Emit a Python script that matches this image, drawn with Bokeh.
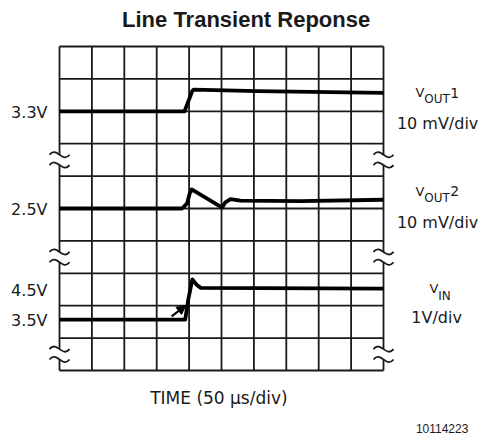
from bokeh.plotting import figure
from bokeh.models import Range1d, Arrow, NormalHead
from bokeh.core.properties import value
from bokeh.embed import file_html
from bokeh.resources import INLINE

# ---------------- data ----------------
US_PER_DIV = 50.0          # time base (µs/div)
MV_PER_DIV = 10.0          # VOUT1 / VOUT2 scale
V_PER_DIV = 1.0            # VIN scale

vout1_t = [0, 193, 205, 207, 305, 500]
vout1_mv = [0, 0, 6.3, 6.7, 6.2, 5.7]

vout2_t = [0, 189, 197, 201, 204, 251, 256, 264, 279, 372, 500]
vout2_mv = [0, 0, 1.6, 4.7, 5.9, 0.3, 1.9, 2.9, 2.4, 2.3, 2.7]

vin_t = [0, 194, 199, 205, 212, 218, 500]
vin_v = [3.5, 3.5, 4.15, 4.74, 4.57, 4.48, 4.46]

level_labels = ["3.3V", "2.5V", "4.5V", "3.5V"]
arrow_from = (173, 3.6)    # (µs, V) on VIN trace scale
arrow_to = (195, 3.94)

# ---------------- layout ----------------
DIV_PX = 32.4
W, H = 486, 437
GRID_LEFT = 59
GRID_BOTTOM = H - 370
VOUT1_POS, VOUT2_POS, VIN_POS = 8.0, 5.0, 1.57
FONT = value("DejaVu Sans")
INK = "#1a1a1a"

p = figure(width=W, height=H, output_backend="svg", toolbar_location=None,
           x_axis_location=None, y_axis_location=None, min_border=0,
           x_range=Range1d(-GRID_LEFT / DIV_PX, (W - GRID_LEFT) / DIV_PX),
           y_range=Range1d(-GRID_BOTTOM / DIV_PX, (H - GRID_BOTTOM) / DIV_PX))
p.grid.visible = False
p.outline_line_color = None
p.background_fill_color = "white"
p.border_fill_color = "white"

divs = list(range(11))
p.segment(x0=divs, y0=[0] * 11, x1=divs, y1=[10] * 11, line_color=INK, line_width=1.8)
p.segment(x0=[0] * 11, y0=divs, x1=[10] * 11, y1=divs, line_color=INK, line_width=1.8)

# axis breaks
break_y = [6.5, 3.5, 0.5]
bx = [0, 0, 0, 10, 10, 10]
by = break_y * 2
p.rect(x=bx, y=by, width=0.45, height=0.32, fill_color="white", line_color=None)
gap = 0.16
for dy in (gap, -gap):
    ys = [v + dy for v in by]
    p.bezier(x0=[x - 0.31 for x in bx], y0=ys, x1=[x + 0.31 for x in bx], y1=ys,
             cx0=[x - 0.08 for x in bx], cy0=[y + 0.28 for y in ys],
             cx1=[x + 0.08 for x in bx], cy1=[y - 0.28 for y in ys],
             line_color=INK, line_width=1.8)

# traces
def tx(ts):
    return [t / US_PER_DIV for t in ts]

p.line(tx(vout1_t), [VOUT1_POS + v / MV_PER_DIV for v in vout1_mv], line_color="black",
       line_width=3.8, line_join="round")
p.line(tx(vout2_t), [VOUT2_POS + v / MV_PER_DIV for v in vout2_mv], line_color="black",
       line_width=3.8, line_join="round")
p.line(tx(vin_t), [VIN_POS + (v - 3.5) / V_PER_DIV for v in vin_v], line_color="black",
       line_width=3.8, line_join="round")

p.add_layout(Arrow(end=NormalHead(size=9, fill_color="black", line_color="black"),
                   x_start=arrow_from[0] / US_PER_DIV, y_start=VIN_POS + (arrow_from[1] - 3.5) / V_PER_DIV,
                   x_end=arrow_to[0] / US_PER_DIV, y_end=VIN_POS + (arrow_to[1] - 3.5) / V_PER_DIV,
                   line_width=2, line_color="black"))

# left level labels
p.text(x=[-0.37] * 4, y=[7.97, 4.96, 2.47, 1.54], text=level_labels, text_font=FONT,
       text_font_size="16px", text_align="right", text_baseline="middle", text_color=INK)

# right channel labels
for off, num in ((0.0, "1"), (3.04, "2")):
    p.text(x=[10.99], y=[8.57 - off], text=["V"], text_font=FONT, text_font_size="13px",
           text_align="left", text_baseline="middle", text_color=INK)
    p.text(x=[11.26], y=[8.37 - off], text=["OUT"], text_font=FONT, text_font_size="12px",
           text_align="left", text_baseline="middle", text_color=INK)
    p.text(x=[12.06], y=[8.58 - off], text=[num], text_font=FONT, text_font_size="14px",
           text_align="left", text_baseline="middle", text_color=INK)
    p.text(x=[11.67], y=[7.62 - off], text=["10 mV/div"], text_font=FONT, text_font_size="16px",
           text_align="center", text_baseline="middle", text_color=INK)

p.text(x=[11.42], y=[2.54], text=["V"], text_font=FONT, text_font_size="13px",
       text_align="left", text_baseline="middle", text_color=INK)
p.text(x=[11.69], y=[2.3], text=["IN"], text_font=FONT, text_font_size="12px",
       text_align="left", text_baseline="middle", text_color=INK)
p.text(x=[11.64], y=[1.65], text=["1V/div"], text_font=FONT, text_font_size="16px",
       text_align="center", text_baseline="middle", text_color=INK)

# bottom labels
p.text(x=[4.92], y=[-0.85], text=["TIME (50 \u00b5s/div)"], text_font=FONT, text_font_size="17px",
       text_align="center", text_baseline="middle", text_color=INK)
p.text(x=[12.62], y=[-1.79], text=["10114223"], text_font=value("Liberation Sans"),
       text_font_size="12px", text_align="right", text_baseline="middle", text_color=INK)

# title
p.text(x=[5.76], y=[10.82], text=["Line Transient Reponse"], text_font=value("Liberation Sans"),
       text_font_style="bold", text_font_size="22px", text_align="center",
       text_baseline="middle", text_color=INK)

open("out.html", "w").write(file_html(p, INLINE))
